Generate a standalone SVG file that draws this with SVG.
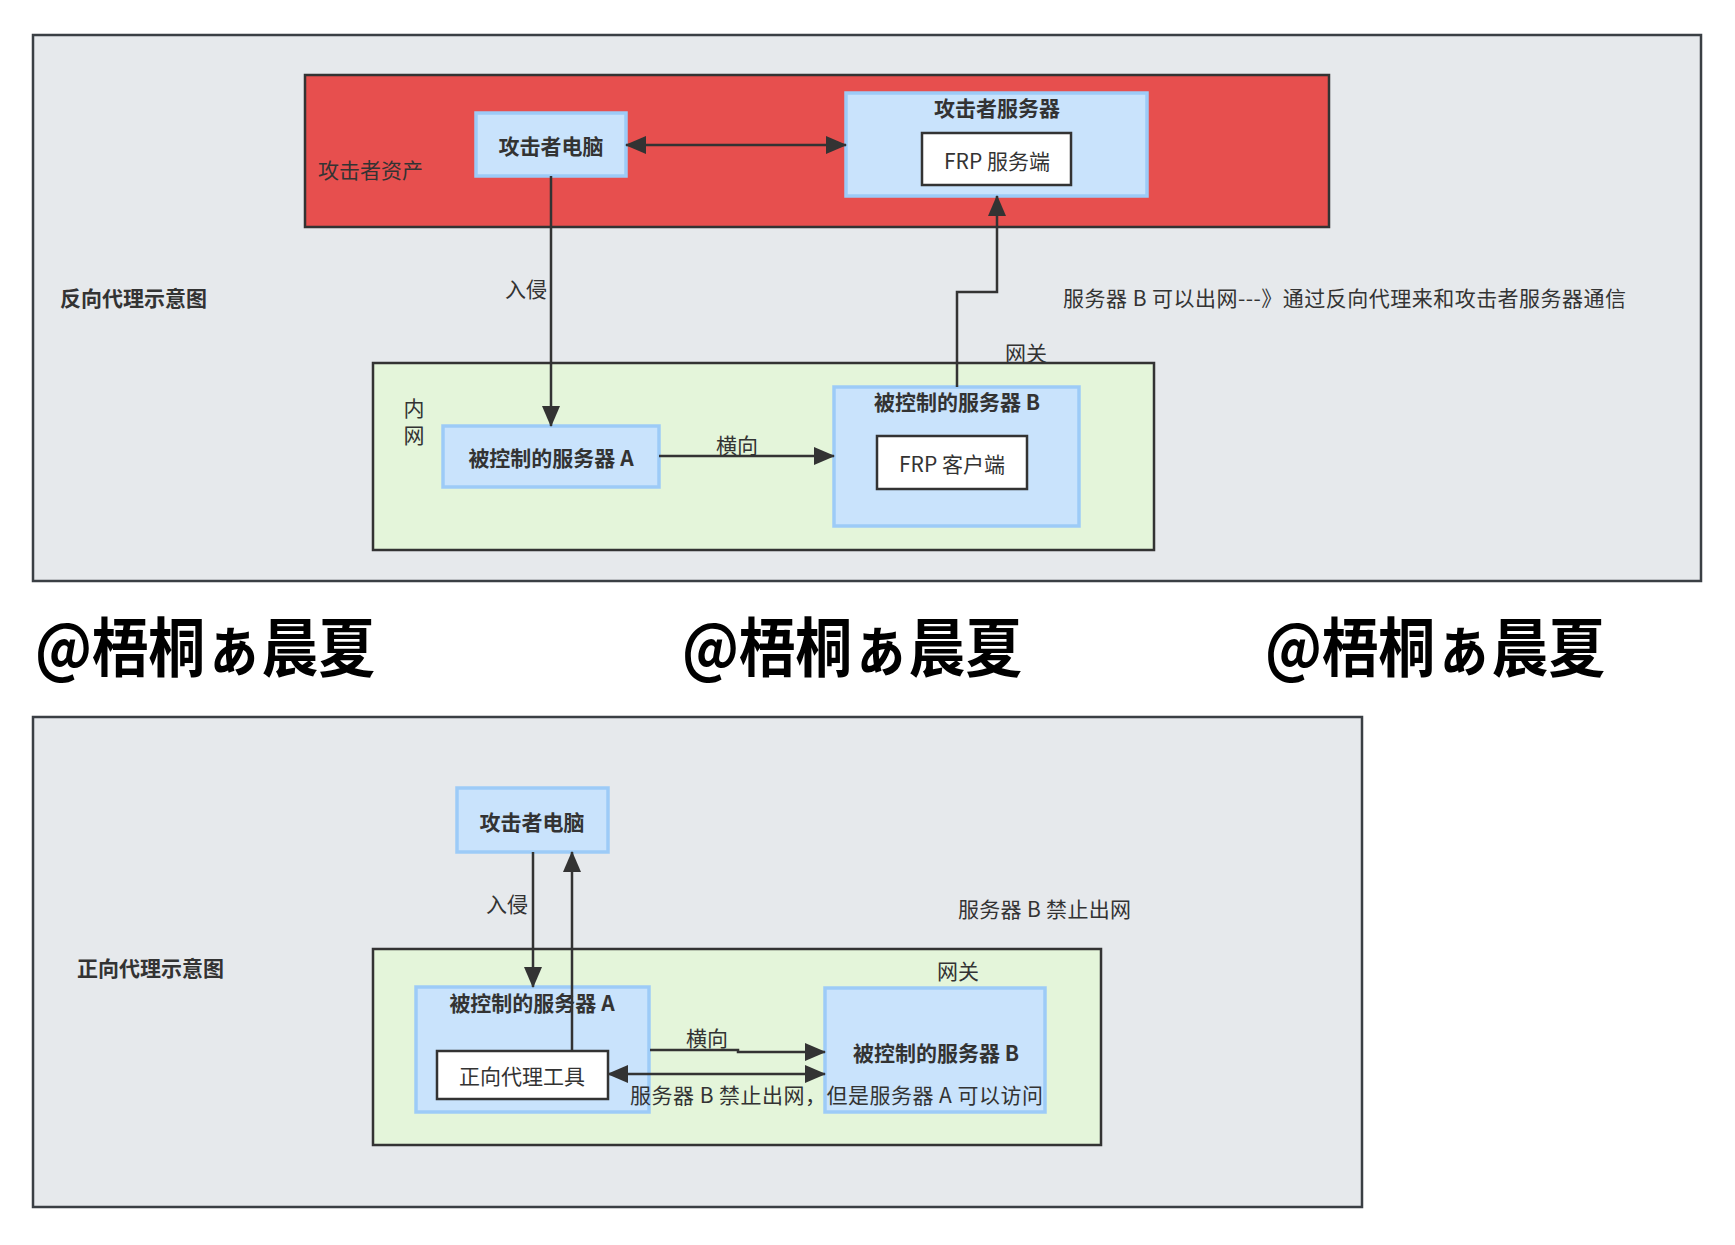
<svg xmlns="http://www.w3.org/2000/svg" width="1735" height="1245" viewBox="0 0 1735 1245">
<defs>
<style>
text{font-family:"Noto Sans CJK SC","Noto Sans",sans-serif;fill:#333;font-size:21px;}
.b{font-weight:700;}
.c{text-anchor:middle;dominant-baseline:central;}
.l{dominant-baseline:central;}
.wm{font-size:64px;font-weight:700;fill:#000;}
.frame{fill:#E6E9EC;stroke:#3A3F44;stroke-width:2.5;}
.red{fill:#E74F4E;stroke:#333;stroke-width:2.5;}
.green{fill:#E4F5DA;stroke:#333;stroke-width:2.5;}
.node{fill:#C9E3FC;stroke:#9DCBF7;stroke-width:3.5;}
.inner{fill:#fff;stroke:#333;stroke-width:2.5;}
.conn{fill:none;stroke:#333;stroke-width:2.5;}
</style>
<marker id="ah" markerUnits="userSpaceOnUse" markerWidth="21" markerHeight="18" viewBox="0 0 21 18" refX="20" refY="9" orient="auto-start-reverse">
<path d="M0,0 L21,9 L0,18 z" fill="#333"/>
</marker>
</defs>
<rect width="1735" height="1245" fill="#fff"/>

<g id="reverse-proxy">
<rect class="frame" x="33" y="35" width="1668" height="546"/>
<text class="b l" x="60" y="297">反向代理示意图</text>
<g id="attacker-assets">
<rect class="red" x="305" y="75" width="1024" height="152"/>
<text class="l" x="318" y="169">攻击者资产</text>
</g>
<g id="attacker-pc">
<rect class="node" x="476" y="113" width="150" height="63"/>
<text class="b c" x="551" y="145">攻击者电脑</text>
</g>
<g id="attacker-server">
<rect class="node" x="846" y="93" width="301" height="103"/>
<text class="b c" x="997" y="107">攻击者服务器</text>
</g>
<g id="frp-server">
<rect class="inner" x="922" y="133" width="149" height="52"/>
<text class="c" x="997" y="160">FRP 服务端</text>
</g>
<g id="intranet">
<rect class="green" x="373" y="363" width="781" height="187"/>
<text class="c" x="414" y="407">内</text>
<text class="c" x="414" y="434">网</text>
<text class="c" x="1026" y="352">网关</text>
</g>
<g id="server-a">
<rect class="node" x="443" y="426" width="216" height="61"/>
<text class="b c" x="551" y="457">被控制的服务器 A</text>
</g>
<g id="server-b">
<rect class="node" x="834" y="387" width="245" height="139"/>
<text class="b c" x="957" y="401">被控制的服务器 B</text>
</g>
<g id="frp-client">
<rect class="inner" x="877" y="436" width="150" height="53"/>
<text class="c" x="952" y="463">FRP 客户端</text>
</g>
<text class="l" x="1063" y="297" textLength="563" lengthAdjust="spacing">服务器 B 可以出网---》通过反向代理来和攻击者服务器通信</text>
</g>

<g id="watermarks">
<text class="wm" x="35" y="671" textLength="340" lengthAdjust="spacingAndGlyphs">@梧桐ぁ晨夏</text>
<text class="wm" x="682" y="671" textLength="340" lengthAdjust="spacingAndGlyphs">@梧桐ぁ晨夏</text>
<text class="wm" x="1265" y="671" textLength="340" lengthAdjust="spacingAndGlyphs">@梧桐ぁ晨夏</text>
</g>

<g id="forward-proxy">
<rect class="frame" x="33" y="717" width="1329" height="490"/>
<text class="b l" x="77" y="967">正向代理示意图</text>
<text class="l" x="958" y="908" textLength="173" lengthAdjust="spacing">服务器 B 禁止出网</text>
<g id="intranet2">
<rect class="green" x="373" y="949" width="728" height="196"/>
<text class="c" x="958" y="970">网关</text>
</g>
<g id="attacker-pc2">
<rect class="node" x="457" y="788" width="151" height="64"/>
<text class="b c" x="532" y="821">攻击者电脑</text>
</g>
<g id="server-a2">
<rect class="node" x="416" y="987" width="233" height="125"/>
<text class="b c" x="532" y="1002">被控制的服务器 A</text>
</g>
<g id="forward-tool">
<rect class="inner" x="437" y="1051" width="171" height="48"/>
<text class="c" x="522" y="1075">正向代理工具</text>
</g>
<g id="server-b2">
<rect class="node" x="825" y="988" width="220" height="124"/>
<text class="b c" x="936" y="1052">被控制的服务器 B</text>
</g>
</g>

<g id="connectors">
<line class="conn" x1="626" y1="145" x2="846" y2="145" marker-start="url(#ah)" marker-end="url(#ah)"/>
<line class="conn" x1="551" y1="176" x2="551" y2="426" marker-end="url(#ah)"/>
<text class="c" x="526" y="288">入侵</text>
<line class="conn" x1="659" y1="456" x2="834" y2="456" marker-end="url(#ah)"/>
<text class="c" x="737" y="444">横向</text>
<polyline class="conn" points="957,387 957,292 997,292 997,196" marker-end="url(#ah)"/>

<line class="conn" x1="533" y1="852" x2="533" y2="987" marker-end="url(#ah)"/>
<text class="c" x="507" y="903">入侵</text>
<line class="conn" x1="572" y1="1051" x2="572" y2="852" marker-end="url(#ah)"/>
<polyline class="conn" points="650,1050 738,1050 738,1052 825,1052" marker-end="url(#ah)"/>
<text class="c" x="707" y="1037">横向</text>
<line class="conn" x1="608" y1="1074" x2="825" y2="1074" marker-start="url(#ah)" marker-end="url(#ah)"/>
<text class="l" x="630" y="1094" textLength="413" lengthAdjust="spacing">服务器 B 禁止出网，但是服务器 A 可以访问</text>
</g>
</svg>
